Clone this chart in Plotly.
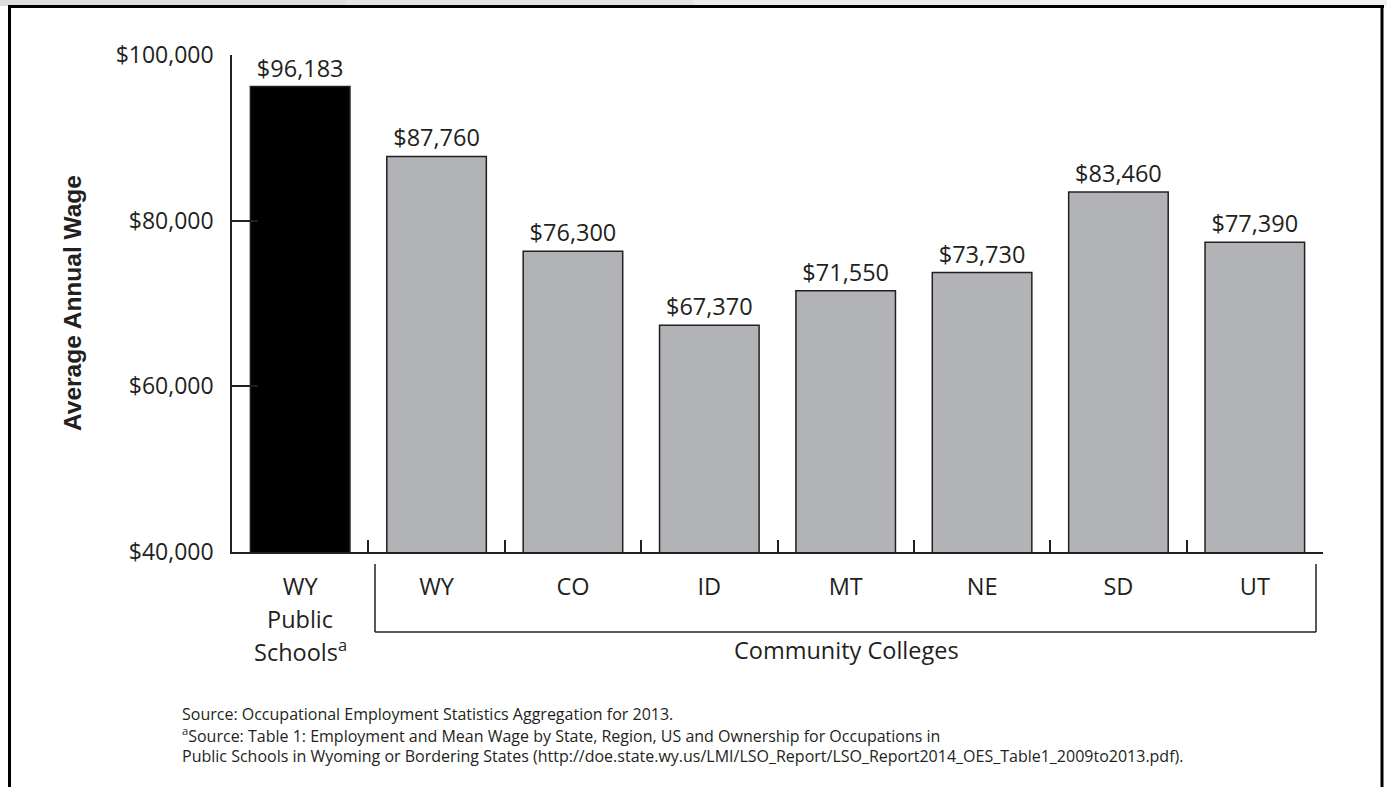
import plotly.graph_objects as go

# ---- data ----
categories = ["WY Public Schools", "WY", "CO", "ID", "MT", "NE", "SD", "UT"]
tick_labels = ["WY", "WY", "CO", "ID", "MT", "NE", "SD", "UT"]
wages = [96183, 87760, 76300, 67370, 71550, 73730, 83460, 77390]
y_ticks = [40000, 60000, 80000, 100000]
y_tick_labels = ["$40,000", "$60,000", "$80,000", "$100,000"]

W, H = 1387, 787
X0, X1, Y0, Y1 = 232, 1323, 55, 552  # plot area in pixels


def px(x):
    return (x - X0) / (X1 - X0)


def py(y):
    return (Y1 - y) / (Y1 - Y0)


FONT = "Open Sans"
DARK = "#231f20"
FS = 23.5
bar_colors = ["#000000"] + ["#b1b3b6"] * (len(categories) - 1)

fig = go.Figure(
    go.Bar(
        x=categories,
        y=wages,
        marker=dict(color=bar_colors, line=dict(color=DARK, width=1.5)),
        text=[f"${v:,}" for v in wages],
        textposition="outside",
        textfont=dict(family=FONT, size=FS, color=DARK),
        constraintext="none",
        cliponaxis=False,
        hoverinfo="skip",
    )
)

shapes = []
# top gray band (stepped gradient)
grays = ["#dddddd", "#e4e4e4", "#ebebeb", "#f1f1f1"]
for i, g in enumerate(grays):
    shapes.append(dict(type="rect", xref="paper", yref="paper",
                       x0=px(i * W / 4), x1=px((i + 1) * W / 4),
                       y0=py(0), y1=py(6), fillcolor=g, line=dict(width=0), layer="below"))
# outer frame
for (xa, ya, xb, yb) in [(8, 6.5, 1384, 6.5), (9.5, 6, 9.5, 787), (1382, 6, 1382, 787)]:
    shapes.append(dict(type="line", xref="paper", yref="paper",
                       x0=px(xa), y0=py(ya), x1=px(xb), y1=py(yb),
                       line=dict(color="#000000", width=3)))
# bracket under community colleges
for (xa, ya, xb, yb) in [(375, 564, 375, 632), (375, 632, 1316, 632), (1316, 632, 1316, 564)]:
    shapes.append(dict(type="line", xref="paper", yref="paper",
                       x0=px(xa), y0=py(ya), x1=px(xb), y1=py(yb),
                       line=dict(color=DARK, width=1.5)))

annotations = [
    dict(text="<b>Average Annual Wage</b>", xref="paper", yref="paper",
         x=px(72), y=py(303), xanchor="center", yanchor="middle", textangle=-90,
         showarrow=False, font=dict(family="Liberation Sans", size=24.5, color=DARK)),
    dict(text="Public", xref="x", yref="paper", x=categories[0], y=py(619),
         xanchor="center", yanchor="middle", showarrow=False,
         font=dict(family=FONT, size=FS, color=DARK)),
    dict(text="Schools<sup>a</sup>", xref="x", yref="paper", x=categories[0], y=py(650),
         xanchor="center", yanchor="middle", showarrow=False,
         font=dict(family=FONT, size=FS, color=DARK)),
    dict(text="Community Colleges", xref="paper", yref="paper", x=px(846), y=py(650),
         xanchor="center", yanchor="middle", showarrow=False,
         font=dict(family=FONT, size=FS, color=DARK)),
]

foot = [
    "Source: Occupational Employment Statistics Aggregation for 2013.",
    "<sup>a</sup>Source: Table 1: Employment and Mean Wage by State, Region, US and Ownership for Occupations in",
    "Public Schools in Wyoming or Bordering States (http://doe.state.wy.us/LMI/LSO_Report/LSO_Report2014_OES_Table1_2009to2013.pdf).",
]
for i, t in enumerate(foot):
    annotations.append(dict(text=t, xref="paper", yref="paper", x=px(180), y=py(714 + 21 * i),
                            xanchor="left", yanchor="middle", showarrow=False,
                            font=dict(family=FONT, size=16, color=DARK)))

fig.update_layout(
    width=W, height=H,
    margin=dict(l=X0, r=W - X1, t=Y0, b=H - Y1, pad=0),
    paper_bgcolor="white", plot_bgcolor="white",
    showlegend=False,
    bargap=0.27,
    shapes=shapes,
    annotations=annotations,
    xaxis=dict(
        type="category",
        tickvals=categories, ticktext=tick_labels,
        tickson="boundaries", ticks="inside", ticklen=12, tickwidth=1.5, tickcolor=DARK,
        showline=True, linecolor=DARK, linewidth=1.5,
        showgrid=False, zeroline=False,
        tickfont=dict(family=FONT, size=FS, color=DARK),
        ticklabelstandoff=13,
    ),
    yaxis=dict(
        range=[40000, 100000],
        tickvals=y_ticks, ticktext=y_tick_labels,
        ticks="inside", ticklen=26, tickwidth=1.5, tickcolor=DARK,
        showline=True, linecolor=DARK, linewidth=1.5,
        showgrid=False, zeroline=False,
        tickfont=dict(family=FONT, size=23, color=DARK),
        ticklabelstandoff=12,
    ),
)

fig.write_html("out.html")
